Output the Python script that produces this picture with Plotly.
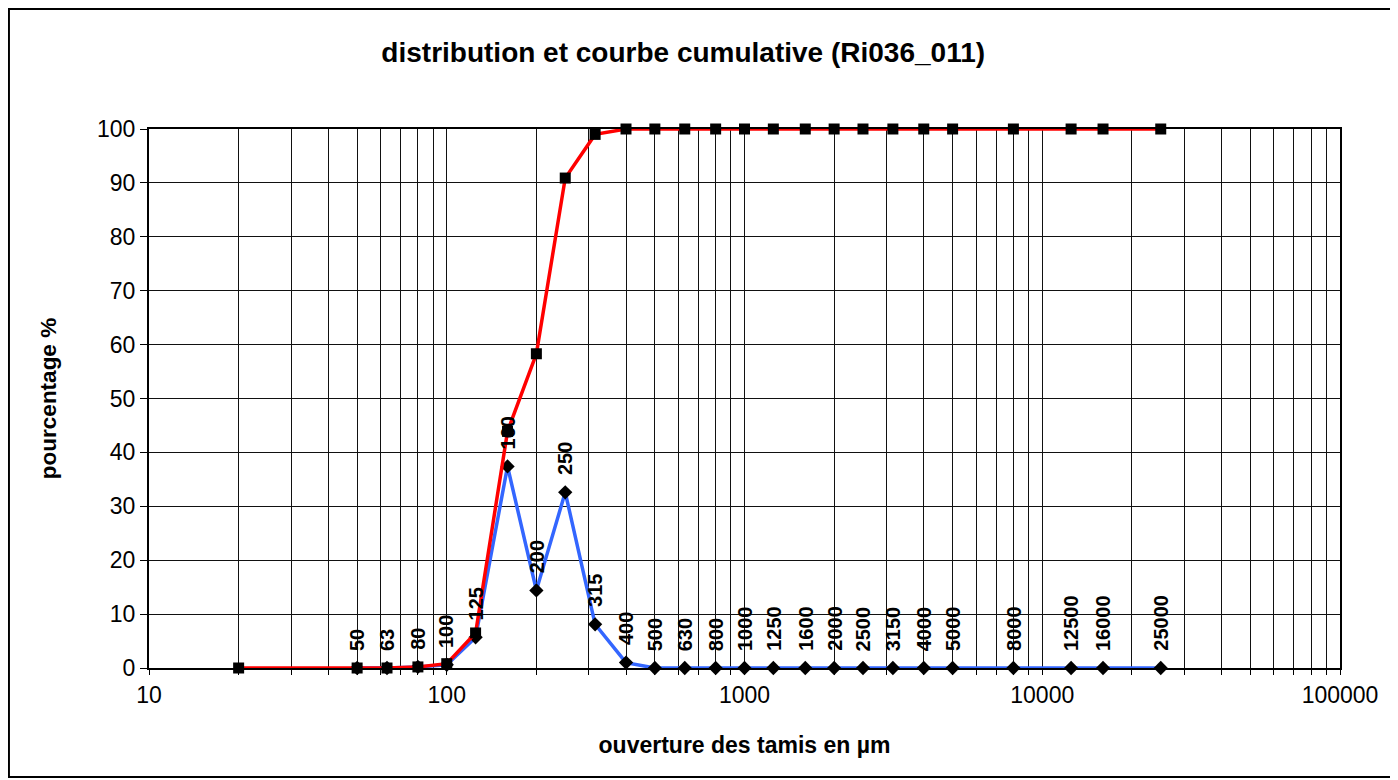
import math
import plotly.graph_objects as go

# ---- data ----
cum_sizes = [20, 50, 63, 80, 100, 125, 160, 200, 250, 315, 400, 500, 630, 800, 1000,
             1250, 1600, 2000, 2500, 3150, 4000, 5000, 8000, 12500, 16000, 25000]
cum_values = [0, 0, 0, 0.2, 0.8, 6.5, 43.9, 58.3, 90.9, 99.0, 100, 100, 100, 100, 100,
              100, 100, 100, 100, 100, 100, 100, 100, 100, 100, 100]

dist_sizes = [50, 63, 80, 100, 125, 160, 200, 250, 315, 400, 500, 630, 800, 1000,
              1250, 1600, 2000, 2500, 3150, 4000, 5000, 8000, 12500, 16000, 25000]
dist_values = [0, 0, 0.2, 0.6, 5.7, 37.4, 14.4, 32.6, 8.1, 1.0, 0, 0, 0, 0,
               0, 0, 0, 0, 0, 0, 0, 0, 0, 0, 0]

x_tickvals = [m * 10 ** e for e in range(1, 5) for m in range(1, 10)] + [100000]
x_ticktext = [str(v) if v in (10, 100, 1000, 10000, 100000) else "" for v in x_tickvals]
y_tickvals = list(range(0, 101, 10))

title_text = "distribution et courbe cumulative (Ri036_011)"
x_title = "ouverture des tamis en µm"
y_title = "pourcentage %"

FONT = "Liberation Sans, Arial, sans-serif"

fig = go.Figure()

fig.add_trace(go.Scatter(
    x=dist_sizes, y=dist_values, mode="lines+markers",
    line=dict(color="#3366FF", width=3.5),
    marker=dict(symbol="diamond", size=11, color="black"),
    showlegend=False, cliponaxis=False,
))
fig.add_trace(go.Scatter(
    x=cum_sizes, y=cum_values, mode="lines+markers",
    line=dict(color="#FF0000", width=3.5),
    marker=dict(symbol="square", size=11, color="black"),
    showlegend=False, cliponaxis=False,
))

annotations = []
for s, v in zip(dist_sizes, dist_values):
    annotations.append(dict(
        x=math.log10(s), y=v, xref="x", yref="y",
        text=f"<b>{s}</b>", showarrow=False, textangle=-90,
        xanchor="center", yanchor="bottom", yshift=15,
        font=dict(family=FONT, size=20, color="black"),
    ))

fig.update_layout(
    width=1398, height=780,
    paper_bgcolor="white", plot_bgcolor="white",
    margin=dict(l=141, r=66, t=121, b=120),
    font=dict(family=FONT, color="black"),
    title=dict(text=f"<b>{title_text}</b>", x=0.483, xanchor="center",
               y=1 - 44 / 780, yanchor="middle",
               font=dict(family=FONT, size=28, color="black")),
    annotations=annotations,
    shapes=[dict(type="rect", xref="paper", yref="paper",
                 x0=-0.1176, x1=1.0479, y0=-0.2022, y1=1.2226,
                 line=dict(color="black", width=2), layer="below")],
)

fig.update_xaxes(
    type="log", range=[1, 5],
    tickvals=x_tickvals, ticktext=x_ticktext,
    ticks="outside", ticklen=5, tickcolor="black", tickwidth=1,
    showgrid=True, gridcolor="#111111", gridwidth=1,
    showline=True, linecolor="black", linewidth=2, mirror=True,
    tickfont=dict(family=FONT, size=23, color="black"),
    title=dict(text=f"<b>{x_title}</b>", standoff=30,
               font=dict(family=FONT, size=23, color="black")),
    zeroline=False,
)
fig.update_yaxes(
    range=[0, 100], tickvals=y_tickvals,
    ticks="outside", ticklen=7, tickcolor="black", tickwidth=1,
    showgrid=True, gridcolor="#111111", gridwidth=1,
    showline=True, linecolor="black", linewidth=2, mirror=True,
    tickfont=dict(family=FONT, size=23, color="black"),
    title=dict(text=f"<b>{y_title}</b>", standoff=34,
               font=dict(family=FONT, size=22.5, color="black")),
    zeroline=False,
)

fig.write_html("out.html")
